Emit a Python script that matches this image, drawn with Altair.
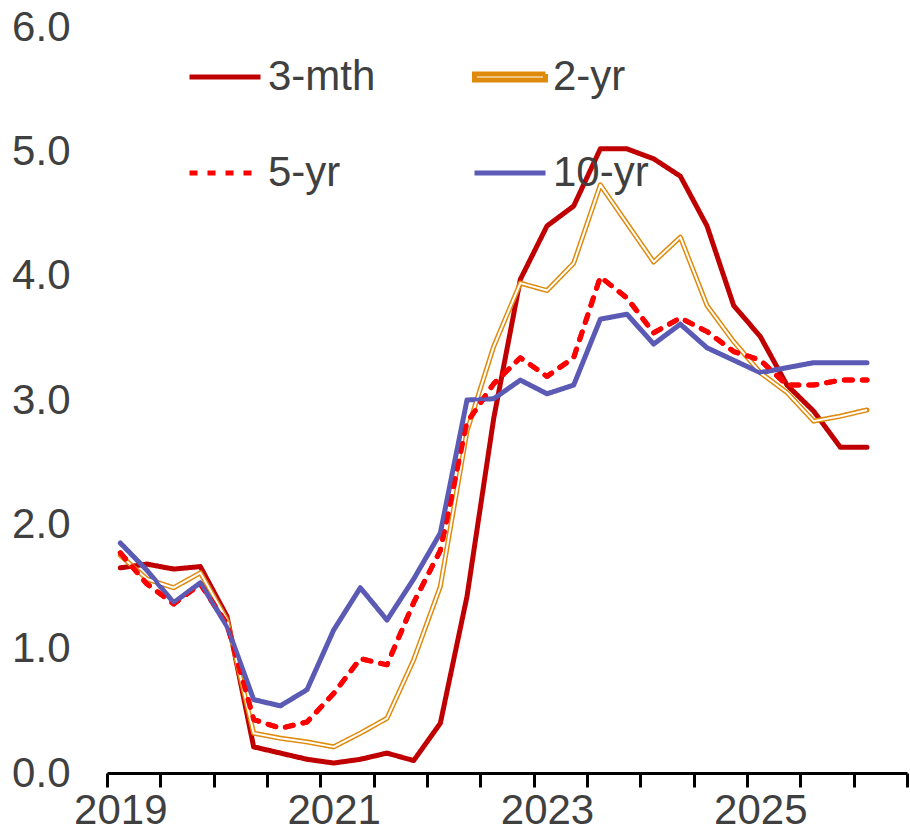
import altair as alt
import pandas as pd

# Quarterly observations, 2019 Q1 to 2026 Q1 (one empty slot left at the end of the axis)
quarters = [
    "2019Q1", "2019Q2", "2019Q3", "2019Q4",
    "2020Q1", "2020Q2", "2020Q3", "2020Q4",
    "2021Q1", "2021Q2", "2021Q3", "2021Q4",
    "2022Q1", "2022Q2", "2022Q3", "2022Q4",
    "2023Q1", "2023Q2", "2023Q3", "2023Q4",
    "2024Q1", "2024Q2", "2024Q3", "2024Q4",
    "2025Q1", "2025Q2", "2025Q3", "2025Q4",
    "2026Q1",
]
n_slots = 30

three_mth = [1.65, 1.68, 1.64, 1.66, 1.26, 0.21, 0.16, 0.11, 0.08, 0.11,
             0.16, 0.10, 0.40, 1.42, 2.85, 3.97, 4.40, 4.56, 5.02, 5.02,
             4.94, 4.80, 4.40, 3.76, 3.51, 3.12, 2.91, 2.62, 2.62]
two_yr = [1.75, 1.56, 1.49, 1.61, 1.23, 0.32, 0.28, 0.25, 0.21, 0.32,
          0.44, 0.91, 1.50, 2.75, 3.43, 3.94, 3.88, 4.10, 4.73, 4.42,
          4.11, 4.31, 3.76, 3.47, 3.22, 3.06, 2.83, 2.87, 2.92]
five_yr = [1.77, 1.52, 1.36, 1.52, 1.20, 0.43, 0.36, 0.41, 0.64, 0.92,
           0.87, 1.37, 1.79, 2.82, 3.13, 3.34, 3.19, 3.34, 3.99, 3.82,
           3.54, 3.66, 3.55, 3.39, 3.32, 3.12, 3.12, 3.16, 3.16]
ten_yr = [1.85, 1.63, 1.37, 1.53, 1.18, 0.59, 0.54, 0.67, 1.15, 1.49,
          1.23, 1.56, 1.93, 3.00, 3.01, 3.16, 3.05, 3.12, 3.65, 3.69,
          3.45, 3.61, 3.42, 3.32, 3.22, 3.26, 3.30, 3.30, 3.30]

series_names = ["3-mth", "2-yr", "5-yr", "10-yr"]
series_values = [three_mth, two_yr, five_yr, ten_yr]
series_colors = ["#C00000", "#E08A0C", "#FF0000", "#5B5BB5"]
series_dash = [[1, 0], [1, 0], [8, 10], [1, 0]]
series_widths = [5, 5, 5, 3.5]

year_ticks = [0, 8, 16, 24]
year_labels = ["2019", "2021", "2023", "2025"]

FONT = "Liberation Sans, Arial, sans-serif"
TEXT = "#404040"

rows = []
for name, vals in zip(series_names, series_values):
    for i, v in enumerate(vals):
        rows.append({"slot": i, "quarter": quarters[i], "series": name, "value": v})
df = pd.DataFrame(rows)

# year label shown under the first quarter of every second year
label_expr = "''"
for t, lab in reversed(list(zip(year_ticks, year_labels))):
    label_expr = f"datum.value === {t} ? '{lab}' : ({label_expr})"

# legend symbol width per series; the 2-yr key is a thin hollow bar
width_expr = "5"
for name, w in zip(series_names, series_widths):
    width_expr = f"datum.value === '{name}' ? {1.4 if name == '2-yr' else w} : ({width_expr})"

x_enc = alt.X(
    "pos:Q",
    scale=alt.Scale(domain=[0, n_slots], nice=False, zero=False),
    axis=alt.Axis(
        values=list(range(n_slots + 1)),
        labelExpr=label_expr,
        title=None,
        grid=False,
        domainColor="black",
        domainWidth=3,
        tickColor="black",
        tickWidth=3,
        tickSize=14,
        labelOffset=13.33,
        labelPadding=3,
        labelFlush=False,
        labelOverlap=False,
        labelFont=FONT,
        labelFontSize=42,
        labelColor=TEXT,
    ),
)
y_enc = alt.Y(
    "value:Q",
    scale=alt.Scale(domain=[0, 6], nice=False),
    axis=alt.Axis(
        values=[0, 1, 2, 3, 4, 5, 6],
        format=".1f",
        title=None,
        grid=False,
        domain=False,
        ticks=False,
        labelPadding=37,
        labelFont=FONT,
        labelFontSize=42,
        labelColor=TEXT,
    ),
)

legend = alt.Legend(
    title=None,
    orient="none",
    direction="horizontal",
    legendX=80,
    legendY=12,
    columns=2,
    columnPadding=88,
    rowPadding=37,
    padding=0,
    symbolType=alt.ExprRef(expr="datum.value === '2-yr' ? 'M-1,-0.085H1V0.085H-1Z' : 'stroke'"),
    symbolFillColor=alt.ExprRef(expr="datum.value === '2-yr' ? '#ffffff' : 'transparent'"),
    symbolStrokeWidth=alt.ExprRef(expr=width_expr),
    symbolSize=5041,
    labelFont=FONT,
    labelFontSize=42,
    labelColor=TEXT,
    labelOffset=5,
    labelLimit=400,
)

base = alt.Chart(df).transform_calculate(pos="datum.slot + 0.5")

lines = base.mark_line(strokeJoin="round", strokeCap="round").encode(
    x=x_enc,
    y=y_enc,
    color=alt.Color("series:N", scale=alt.Scale(domain=series_names, range=series_colors), legend=legend),
    strokeDash=alt.StrokeDash("series:N", scale=alt.Scale(domain=series_names, range=series_dash), legend=legend),
    strokeWidth=alt.StrokeWidth("series:N", scale=alt.Scale(domain=series_names, range=series_widths), legend=None),
    detail="series:N",
    order="slot:Q",
)

# hollow centre of the double 2-yr line
two_yr_core = base.transform_filter("datum.series === '2-yr'").mark_line(
    color="white", strokeWidth=2.0, strokeJoin="round"
).encode(x="pos:Q", y="value:Q", order="slot:Q")

# longer maturities stay on top of the 2-yr line
five_top = base.transform_filter("datum.series === '5-yr'").mark_line(
    color=series_colors[2], strokeWidth=series_widths[2], strokeDash=series_dash[2],
    strokeCap="round", strokeJoin="round"
).encode(x="pos:Q", y="value:Q", order="slot:Q")
ten_top = base.transform_filter("datum.series === '10-yr'").mark_line(
    color=series_colors[3], strokeWidth=series_widths[3], strokeJoin="round", strokeCap="round"
).encode(x="pos:Q", y="value:Q", order="slot:Q")

chart = (
    alt.layer(lines, two_yr_core, five_top, ten_top)
    .properties(
        width=800,
        height=746,
        padding={"left": 107, "top": 27, "right": 3, "bottom": 58},
        autosize=alt.AutoSizeParams(type="none"),
        background="white",
    )
    .configure_view(stroke=None)
)

chart.save("out.html", embed_options={"renderer": "svg", "actions": False})
